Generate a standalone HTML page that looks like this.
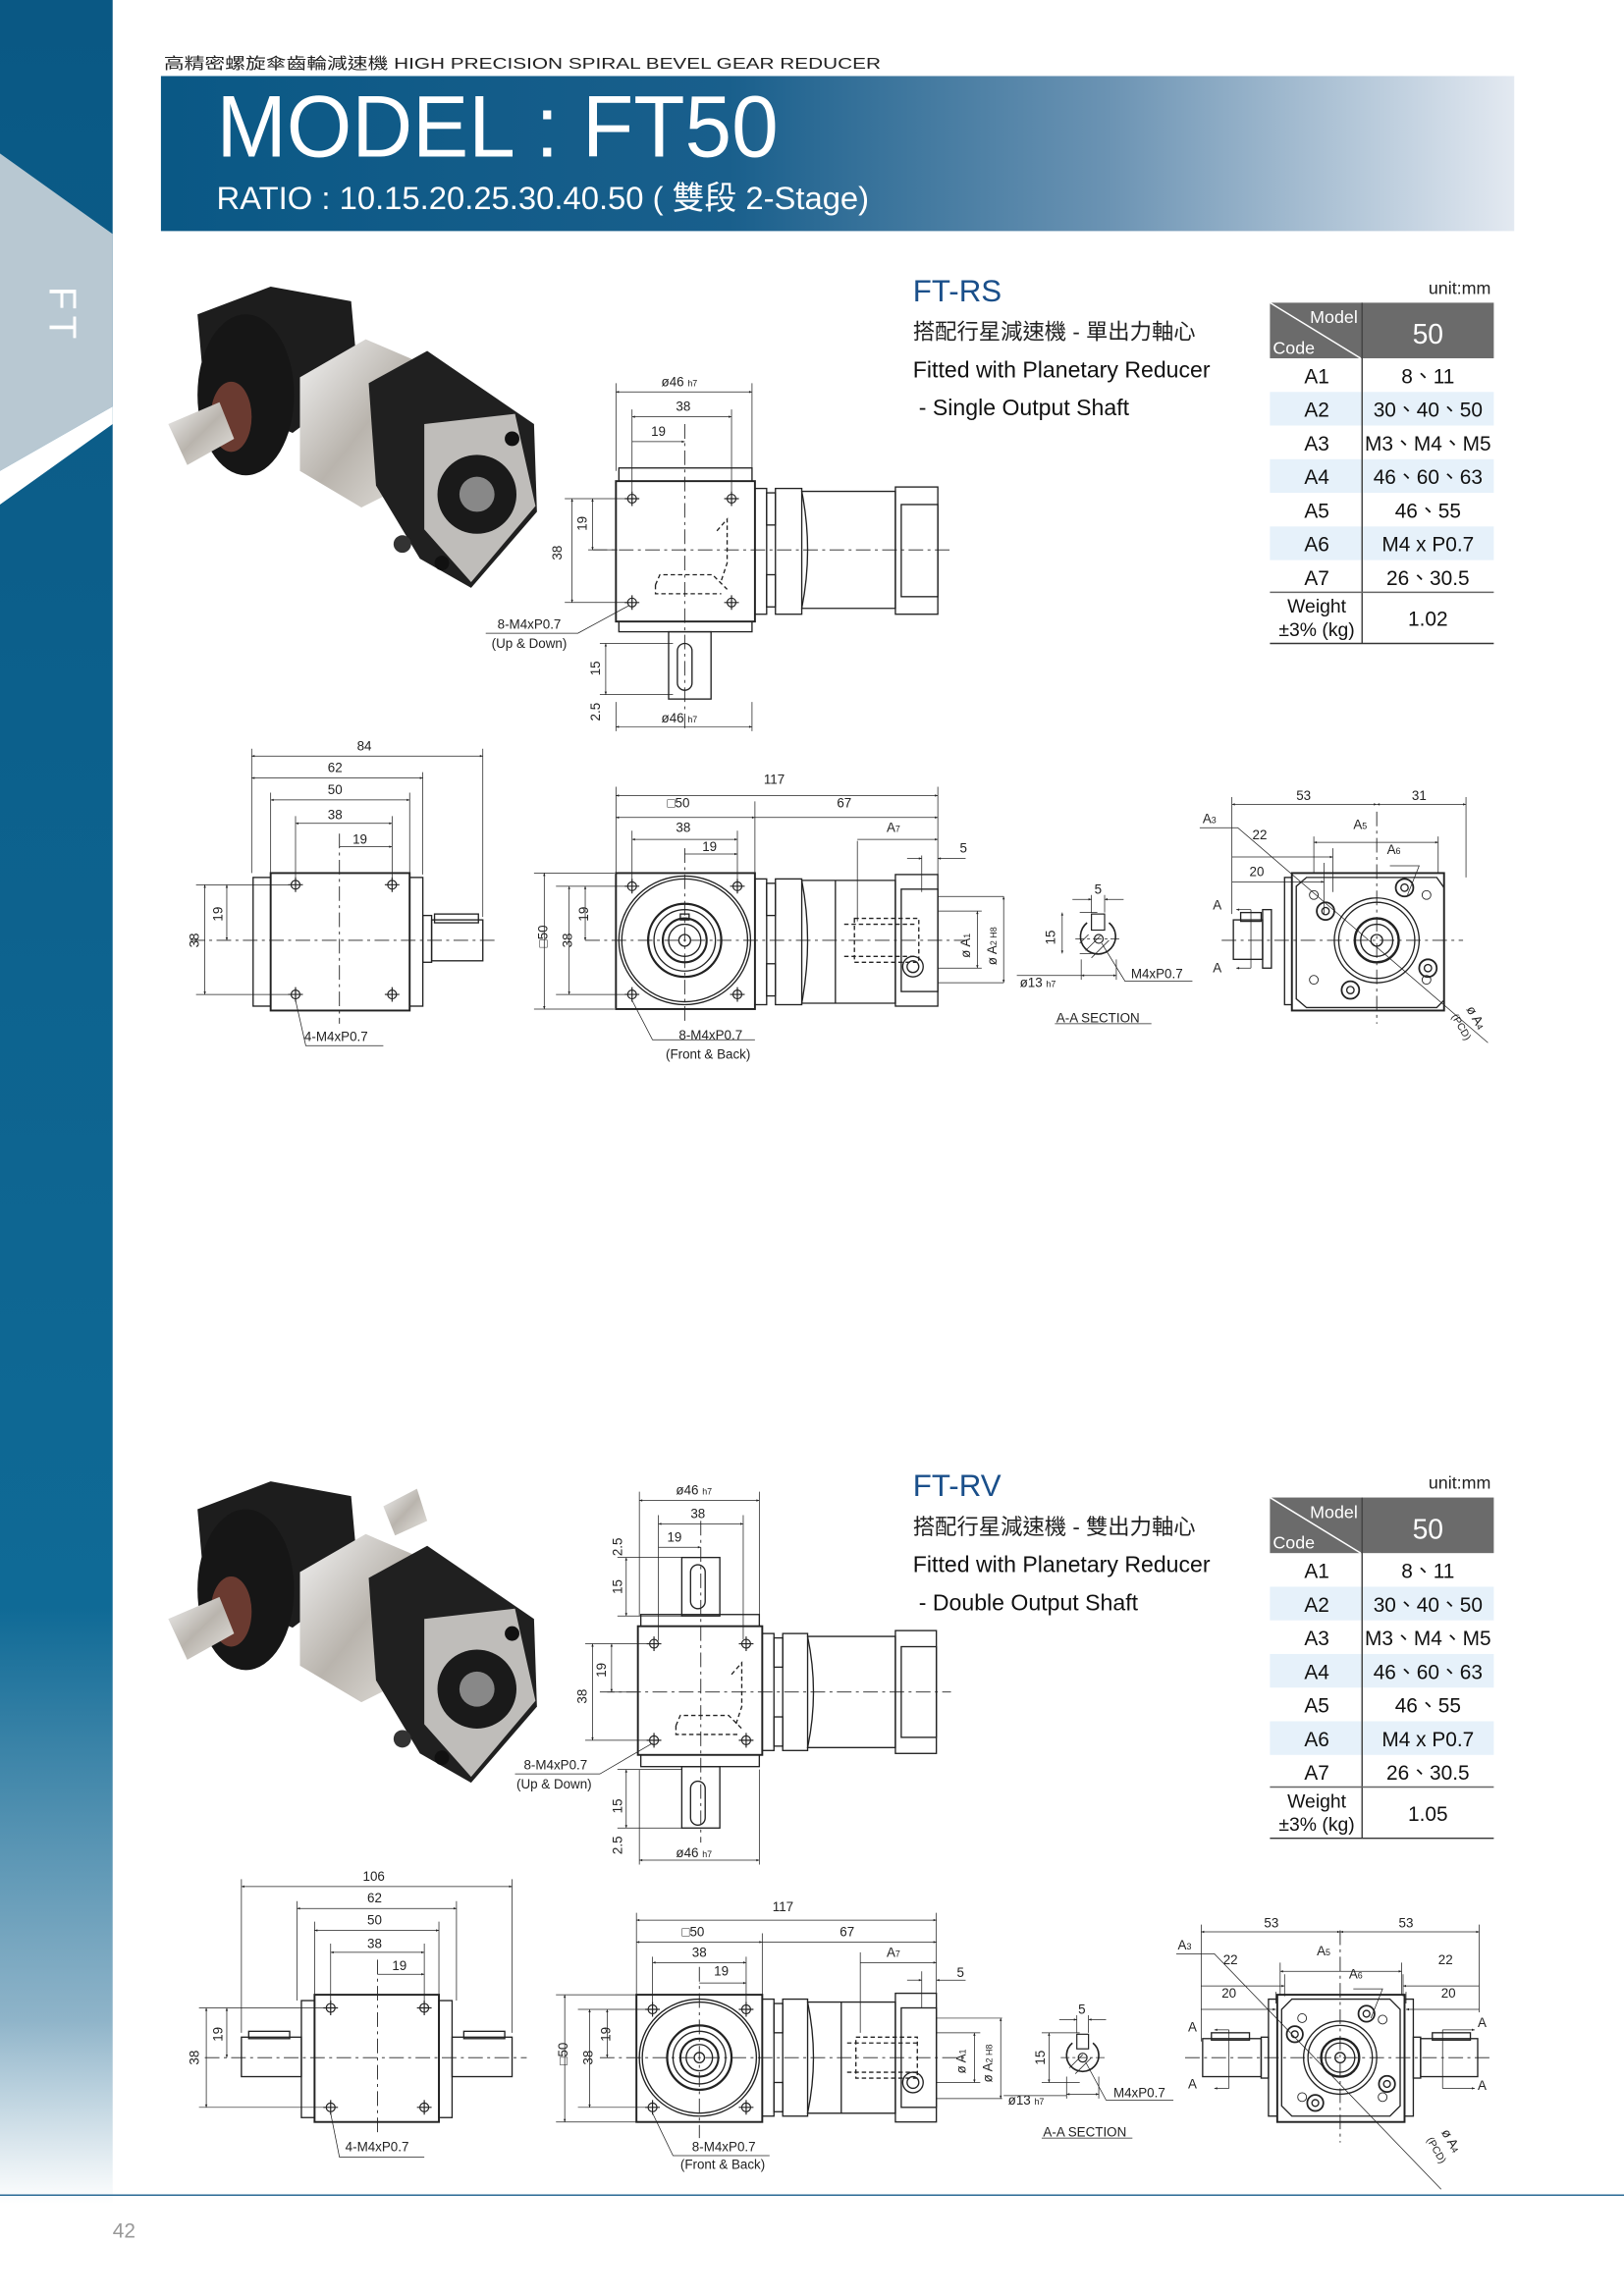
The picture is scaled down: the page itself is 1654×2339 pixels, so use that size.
<!DOCTYPE html>
<html><head><meta charset="utf-8"><style>
html,body{margin:0;padding:0;background:#fff}
svg{display:block}
text{font-family:"Liberation Sans","Noto Sans CJK TC",sans-serif}
</style></head><body>
<svg width="1654" height="2339" viewBox="0 0 1110 1570" preserveAspectRatio="none" xmlns="http://www.w3.org/2000/svg">
<defs>
<linearGradient id="side" x1="0" y1="0" x2="0" y2="1">
<stop offset="0" stop-color="#0a5884"/><stop offset="0.7" stop-color="#0f6a96"/><stop offset="0.88" stop-color="#8fb4c9"/><stop offset="0.96" stop-color="#ffffff"/></linearGradient>
<linearGradient id="band" x1="0" y1="0" x2="1" y2="0">
<stop offset="0" stop-color="#0a5885"/><stop offset="0.42" stop-color="#195f8c"/><stop offset="0.7" stop-color="#6b93b3"/><stop offset="1" stop-color="#e3e9f1"/></linearGradient>
<linearGradient id="silv" x1="0" y1="0" x2="1" y2="1"><stop offset="0" stop-color="#f2f2f2"/><stop offset="0.5" stop-color="#b9b4ad"/><stop offset="1" stop-color="#e8e6e2"/></linearGradient>
<marker id="ar" viewBox="0 0 10 10" refX="10" refY="5" markerWidth="6" markerHeight="4" orient="auto-start-reverse"><path d="M0,1 L10,5 L0,9 z" fill="#222"/></marker>
</defs>

<!-- sidebar -->
<rect x="0" y="0" width="77" height="1570" fill="url(#side)"/>
<polygon points="0,105 77,160 77,278 0,322" fill="#b8c8d2"/>
<polygon points="0,322 77,278 77,290 0,345" fill="#ffffff"/>
<text x="0" y="0" transform="translate(34,196) rotate(90)" font-size="26" fill="#fff" letter-spacing="4">FT</text>

<!-- header -->
<text x="112" y="47" font-size="10.5" fill="#222" textLength="490" lengthAdjust="spacingAndGlyphs">高精密螺旋傘齒輪減速機  HIGH PRECISION SPIRAL BEVEL GEAR REDUCER</text>
<rect x="110" y="52" width="925" height="106" fill="url(#band)"/>
<text x="148" y="107" font-size="60" fill="#fff" textLength="384" lengthAdjust="spacingAndGlyphs">MODEL : FT50</text>
<text x="148" y="143" font-size="22" fill="#fff" textLength="446" lengthAdjust="spacingAndGlyphs">RATIO : 10.15.20.25.30.40.50 ( 雙段 2-Stage)</text>

<!-- footer -->
<line x1="0" y1="1501" x2="1110" y2="1501" stroke="#2a6a96" stroke-width="1"/>
<text x="77" y="1530" font-size="14" fill="#999">42</text>

<!-- ============ SECTION 1 ============ -->
<g id="s1">
<!-- photo -->
<polygon points="135,215 185,196 240,206 245,262 200,296 140,272" fill="#1d1d1d"/>
<ellipse cx="168" cy="270" rx="33" ry="55" fill="#161616"/>
<ellipse cx="158" cy="285" rx="14" ry="24" fill="#6a3a30"/>
<polygon points="115,290 150,275 160,300 128,318" fill="url(#silv)"/>
<polygon points="205,258 250,232 292,250 297,322 247,347 205,322" fill="url(#silv)"/>
<polygon points="252,262 292,240 365,290 367,350 322,402 287,382 257,332" fill="#202020"/>
<polygon points="290,290 352,283 366,346 322,398 290,362" fill="#bfbdba"/>
<circle cx="326" cy="338" r="27" fill="#1a1a1a"/><circle cx="326" cy="338" r="12" fill="#888"/>
<circle cx="275" cy="372" r="6" fill="#333"/><circle cx="350" cy="300" r="5" fill="#111"/><circle cx="302" cy="385" r="5" fill="#111"/>

<!-- titles -->
<text x="624" y="206" font-size="21" fill="#1a4f8a">FT-RS</text>
<text x="624" y="232" font-size="15" fill="#222">搭配行星減速機 - 單出力軸心</text>
<text x="624" y="258" font-size="15.5" fill="#111">Fitted with Planetary Reducer</text>
<text x="628" y="284" font-size="15.5" fill="#111">-  Single Output Shaft</text>

<!-- table -->
<text x="1019" y="201" font-size="12" fill="#222" text-anchor="end">unit:mm</text>
<rect x="868" y="207" width="153" height="38" fill="#6b6b6b"/>
<line x1="868" y1="207" x2="930" y2="245" stroke="#fff" stroke-width="1"/>
<text x="928" y="221" font-size="12" fill="#fff" text-anchor="end">Model</text>
<text x="870" y="242" font-size="12" fill="#fff">Code</text>
<text x="976" y="235" font-size="19" fill="#fff" text-anchor="middle">50</text>
<rect x="868" y="268" width="153" height="23" fill="#e6f1fa"/>
<rect x="868" y="314" width="153" height="23" fill="#e6f1fa"/>
<rect x="868" y="360" width="153" height="23" fill="#e6f1fa"/>
<line x1="931" y1="207" x2="931" y2="440" stroke="#444" stroke-width="1"/>
<line x1="868" y1="405" x2="1021" y2="405" stroke="#666" stroke-width="1"/>
<line x1="868" y1="440" x2="1021" y2="440" stroke="#333" stroke-width="1"/>
<g font-size="14" fill="#111" text-anchor="middle">
<text x="900" y="262">A1</text><text x="976" y="262">8、11</text>
<text x="900" y="285">A2</text><text x="976" y="285">30、40、50</text>
<text x="900" y="308">A3</text><text x="976" y="308">M3、M4、M5</text>
<text x="900" y="331">A4</text><text x="976" y="331">46、60、63</text>
<text x="900" y="354">A5</text><text x="976" y="354">46、55</text>
<text x="900" y="377">A6</text><text x="976" y="377">M4 x P0.7</text>
<text x="900" y="400">A7</text><text x="976" y="400">26、30.5</text>
<text x="900" y="419" font-size="13">Weight</text><text x="900" y="435" font-size="13">±3% (kg)</text>
<text x="976" y="428">1.02</text>
</g>

<!-- top view -->
<g stroke="#222" fill="none" stroke-width="0.9">
<rect x="423" y="320" width="91" height="9"/>
<rect x="421" y="329" width="95" height="96" stroke-width="1.3"/>
<rect x="423" y="425" width="91" height="7"/>
<rect x="457" y="432" width="29" height="46"/>
<rect x="463" y="440" width="10" height="32" rx="5"/>
<rect x="516" y="334" width="8" height="86"/>
<rect x="524" y="337" width="6" height="22"/><rect x="524" y="393" width="6" height="22"/>
<rect x="530" y="334" width="18" height="86"/>
<path d="M548,336 H612 V416 H548 Q556,376 548,336z"/>
<rect x="612" y="333" width="29" height="87"/><rect x="616" y="345" width="25" height="63"/>
<path d="M448,400 l3,-7 h36 l10,10 M490,363 l7,-8 v30 l-4,12 M448,400 v6 h45" stroke-dasharray="3 2"/>
<g stroke-width="0.8"><circle cx="432" cy="341" r="3"/><circle cx="500" cy="341" r="3"/><circle cx="432" cy="412" r="3"/><circle cx="500" cy="412" r="3"/>
<path d="M432,336v10M427,341h10M500,336v10M495,341h10M432,407v10M427,412h10M500,407v10M495,412h10"/></g>
<line x1="405" y1="376" x2="650" y2="376" stroke-dasharray="10 3 2 3" stroke-width="0.6"/>
<line x1="468" y1="290" x2="468" y2="500" stroke-dasharray="10 3 2 3" stroke-width="0.6"/>
</g>
<g stroke="#222" stroke-width="0.5" fill="none">
<path d="M421,262v60M514,262v60M432,280v56M500,280v56M432,297v39"/>
<line x1="421" y1="268" x2="514" y2="268" marker-start="url(#ar)" marker-end="url(#ar)"/>
<line x1="432" y1="285" x2="500" y2="285" marker-start="url(#ar)" marker-end="url(#ar)"/>
<line x1="432" y1="302" x2="468" y2="302" marker-end="url(#ar)"/>
<path d="M386,341h44M386,412h44M402,376h20"/>
<line x1="391" y1="341" x2="391" y2="412" marker-start="url(#ar)" marker-end="url(#ar)"/>
<line x1="405" y1="341" x2="405" y2="376" marker-start="url(#ar)" marker-end="url(#ar)"/>
<path d="M410,440h50M410,475h50M421,480v20M514,480v20"/>
<line x1="414" y1="440" x2="414" y2="475" marker-start="url(#ar)" marker-end="url(#ar)"/>
<line x1="421" y1="497" x2="514" y2="497" marker-start="url(#ar)" marker-end="url(#ar)"/>
<path d="M332,433H395L430,414"/>
</g>
<g font-size="9" fill="#222">
<text x="452" y="264">ø46 <tspan font-size="6">h7</tspan></text><text x="462" y="281">38</text><text x="445" y="298">19</text>
<text transform="translate(384,383) rotate(-90)">38</text><text transform="translate(401,363) rotate(-90)">19</text>
<text transform="translate(410,462) rotate(-90)">15</text><text transform="translate(410,493) rotate(-90)">2.5</text>
<text x="452" y="494">ø46 <tspan font-size="6">h7</tspan></text>
<text x="340" y="430">8-M4xP0.7</text><text x="336" y="443">(Up &amp; Down)</text>
</g>

<!-- left view -->
<g stroke="#222" fill="none" stroke-width="0.9">
<rect x="173" y="600" width="12" height="88"/>
<rect x="185" y="597" width="95" height="94" stroke-width="1.3"/>
<rect x="280" y="600" width="9" height="88"/>
<rect x="289" y="626" width="6" height="32"/>
<rect x="295" y="629" width="35" height="28"/><rect x="297" y="625" width="30" height="6"/>
<g stroke-width="0.8"><circle cx="202" cy="605" r="3"/><circle cx="268" cy="605" r="3"/><circle cx="202" cy="680" r="3"/><circle cx="268" cy="680" r="3"/>
<path d="M202,600v10M197,605h10M268,600v10M263,605h10M202,675v10M197,680h10M268,675v10M263,680h10"/></g>
<line x1="130" y1="643" x2="340" y2="643" stroke-dasharray="10 3 2 3" stroke-width="0.6"/>
<line x1="232" y1="570" x2="232" y2="700" stroke-dasharray="10 3 2 3" stroke-width="0.6"/>
</g>
<g stroke="#222" stroke-width="0.5" fill="none">
<path d="M172,512v85M330,512v115M289,528v70M185,542v55M280,542v55M202,558v45M268,558v45"/>
<line x1="172" y1="517" x2="330" y2="517" marker-start="url(#ar)" marker-end="url(#ar)"/>
<line x1="172" y1="532" x2="289" y2="532" marker-start="url(#ar)" marker-end="url(#ar)"/>
<line x1="185" y1="547" x2="280" y2="547" marker-start="url(#ar)" marker-end="url(#ar)"/>
<line x1="202" y1="563" x2="268" y2="563" marker-start="url(#ar)" marker-end="url(#ar)"/>
<line x1="232" y1="579" x2="268" y2="579" marker-end="url(#ar)"/>
<path d="M134,605h64M134,680h64"/>
<line x1="140" y1="605" x2="140" y2="680" marker-start="url(#ar)" marker-end="url(#ar)"/>
<line x1="155" y1="605" x2="155" y2="643" marker-start="url(#ar)" marker-end="url(#ar)"/>
<path d="M202,684L209,715H262"/>
</g>
<g font-size="9" fill="#222">
<text x="244" y="513">84</text><text x="224" y="528">62</text><text x="224" y="543">50</text><text x="224" y="560">38</text><text x="241" y="577">19</text>
<text transform="translate(136,648) rotate(-90)">38</text><text transform="translate(152,630) rotate(-90)">19</text>
<text x="208" y="712">4-M4xP0.7</text>
</g>

<!-- front view -->
<g stroke="#222" fill="none" stroke-width="0.9">
<rect x="421" y="597" width="95" height="93" stroke-width="1.3"/>
<ellipse cx="468" cy="643" rx="45" ry="44"/><ellipse cx="468" cy="643" rx="43" ry="42"/>
<circle cx="468" cy="643" r="25" stroke-width="1.5"/><circle cx="468" cy="643" r="21"/><circle cx="468" cy="643" r="15" stroke-width="1.4"/><circle cx="468" cy="643" r="11"/><circle cx="468" cy="643" r="4"/>
<rect x="465" y="625" width="6" height="4"/>
<g stroke-width="0.8"><circle cx="432" cy="606" r="3"/><circle cx="504" cy="606" r="3"/><circle cx="432" cy="680" r="3"/><circle cx="504" cy="680" r="3"/>
<path d="M432,601v10M427,606h10M504,601v10M499,606h10M432,675v10M427,680h10M504,675v10M499,680h10"/></g>
<rect x="516" y="601" width="8" height="86"/>
<rect x="524" y="604" width="6" height="22"/><rect x="524" y="659" width="6" height="22"/>
<rect x="530" y="601" width="18" height="86"/>
<path d="M548,602 H612 V686 H548 Q556,643 548,602z"/><line x1="571" y1="602" x2="571" y2="686"/>
<rect x="612" y="598" width="29" height="90"/><rect x="616" y="608" width="25" height="70"/>
<path d="M584,628h44v30h-44z M577,632h50 M577,654h50" stroke-dasharray="3 2"/>
<circle cx="624" cy="661" r="7"/><circle cx="624" cy="661" r="4"/>
<line x1="400" y1="643" x2="660" y2="643" stroke-dasharray="10 3 2 3" stroke-width="0.6"/>
<line x1="468" y1="580" x2="468" y2="700" stroke-dasharray="10 3 2 3" stroke-width="0.6"/>
</g>
<g stroke="#222" stroke-width="0.5" fill="none">
<path d="M421,538v59M641,538v60M516,548v50M432,568v35M504,568v35M586,575v55M630,585v25"/>
<line x1="421" y1="544" x2="641" y2="544" marker-start="url(#ar)" marker-end="url(#ar)"/>
<line x1="421" y1="559" x2="516" y2="559" marker-start="url(#ar)" marker-end="url(#ar)"/>
<line x1="516" y1="559" x2="641" y2="559" marker-end="url(#ar)"/>
<line x1="432" y1="574" x2="504" y2="574" marker-start="url(#ar)" marker-end="url(#ar)"/>
<line x1="468" y1="584" x2="504" y2="584" marker-end="url(#ar)"/>
<line x1="586" y1="574" x2="641" y2="574" marker-end="url(#ar)"/>
<line x1="620" y1="587" x2="630" y2="587" marker-end="url(#ar)"/><line x1="660" y1="587" x2="641" y2="587" marker-end="url(#ar)"/>
<path d="M365,597h55M380,606h50M380,680h50M365,690h55"/>
<line x1="372" y1="597" x2="372" y2="690" marker-start="url(#ar)" marker-end="url(#ar)"/>
<line x1="389" y1="606" x2="389" y2="680" marker-start="url(#ar)" marker-end="url(#ar)"/>
<line x1="400" y1="606" x2="400" y2="643" marker-start="url(#ar)" marker-end="url(#ar)"/>
<path d="M641,613h45M641,672h45M641,623h30M641,662h30"/>
<line x1="686" y1="613" x2="686" y2="672" marker-start="url(#ar)" marker-end="url(#ar)"/>
<line x1="668" y1="623" x2="668" y2="662" marker-start="url(#ar)" marker-end="url(#ar)"/>
<path d="M432,684L446,711H516"/>
</g>
<g font-size="9" fill="#222">
<text x="522" y="536">117</text><text x="456" y="552">□50</text><text x="572" y="552">67</text><text x="462" y="569">38</text><text x="480" y="582">19</text>
<text x="606" y="569">A<tspan font-size="6">7</tspan></text><text x="656" y="583">5</text>
<text transform="translate(374,648) rotate(-90)">□50</text><text transform="translate(391,648) rotate(-90)">38</text><text transform="translate(402,630) rotate(-90)">19</text>
<text transform="translate(663,655) rotate(-90)">ø A<tspan font-size="6">1</tspan></text><text transform="translate(681,660) rotate(-90)">ø A<tspan font-size="6">2 H8</tspan></text>
<text x="464" y="711">8-M4xP0.7</text><text x="455" y="724">(Front &amp; Back)</text>
</g>

<!-- A-A section -->
<g stroke="#222" fill="none" stroke-width="0.8">
<path d="M743,631 A12,12 0 1 0 758,631" stroke-width="1.1"/>
<rect x="746" y="625" width="9" height="11"/>
<circle cx="751" cy="642" r="3"/>
<path d="M742,650l10,-10M746,655l12,-12M738,645l6,-6" stroke-width="0.5"/>
<line x1="735" y1="642" x2="767" y2="642" stroke-dasharray="6 2 2 2" stroke-width="0.5"/>
<g stroke-width="0.5"><path d="M746,612v12M755,612v12M738,624h12M738,652h12M739,656v14M763,656v14"/>
<line x1="733" y1="615" x2="746" y2="615" marker-end="url(#ar)"/><line x1="768" y1="615" x2="755" y2="615" marker-end="url(#ar)"/>
<line x1="726" y1="624" x2="726" y2="652" marker-start="url(#ar)" marker-end="url(#ar)"/>
<line x1="739" y1="667" x2="763" y2="667" marker-start="url(#ar)" marker-end="url(#ar)"/>
<path d="M695,667h44M753,645L769,671H815"/>
<path d="M721,700H787"/></g>
</g>
<g font-size="9" fill="#222">
<text x="748" y="611">5</text><text transform="translate(721,646) rotate(-90)">15</text>
<text x="697" y="675">ø13 <tspan font-size="6">h7</tspan></text><text x="773" y="669">M4xP0.7</text>
<text x="722" y="699">A-A  SECTION</text>
</g>

<!-- right view -->
<g stroke="#222" fill="none" stroke-width="0.9">
<rect x="878" y="600" width="5" height="87"/>
<rect x="883" y="597" width="104" height="94" stroke-width="1.3"/>
<path d="M893,600h89l5,7v77l-5,5h-89l-7,-6v-77z"/>
<rect x="863" y="622" width="6" height="40"/>
<rect x="843" y="629" width="20" height="27"/><rect x="848" y="624" width="14" height="6"/>
<circle cx="941" cy="643" r="29"/><circle cx="941" cy="643" r="26"/>
<circle cx="941" cy="643" r="15" stroke-width="1.6"/><circle cx="941" cy="643" r="11"/><circle cx="941" cy="643" r="4"/>
<g stroke-width="1.2"><circle cx="906" cy="623" r="6"/><circle cx="960" cy="607" r="6"/><circle cx="976" cy="662" r="6"/><circle cx="923" cy="677" r="6"/></g>
<circle cx="906" cy="623" r="2.5"/><circle cx="960" cy="607" r="2.5"/><circle cx="976" cy="662" r="2.5"/><circle cx="923" cy="677" r="2.5"/>
<g stroke-width="0.6"><circle cx="898" cy="612" r="3"/><circle cx="975" cy="612" r="3"/><circle cx="975" cy="670" r="3"/><circle cx="898" cy="670" r="3"/></g>
<line x1="835" y1="643" x2="1000" y2="643" stroke-dasharray="10 3 2 3" stroke-width="0.6"/>
<line x1="941" y1="555" x2="941" y2="700" stroke-dasharray="10 3 2 3" stroke-width="0.6"/>
</g>
<g stroke="#222" stroke-width="0.5" fill="none">
<path d="M842,545v80M1002,545v55M898,572v25M983,572v25M911,580v30M905,590v35"/>
<line x1="842" y1="550" x2="941" y2="550" marker-start="url(#ar)" marker-end="url(#ar)"/>
<line x1="941" y1="550" x2="1002" y2="550" marker-start="url(#ar)" marker-end="url(#ar)"/>
<line x1="898" y1="576" x2="983" y2="576" marker-start="url(#ar)" marker-end="url(#ar)"/>
<line x1="842" y1="586" x2="911" y2="586" marker-end="url(#ar)"/>
<line x1="842" y1="603" x2="905" y2="603" marker-end="url(#ar)"/>
<path d="M820,566H846L1017,713"/>
<path d="M950,592h20l-8,20"/>
<line x1="855" y1="622" x2="845" y2="622" marker-end="url(#ar)"/><path d="M855,622v40"/>
<line x1="855" y1="662" x2="845" y2="662" marker-end="url(#ar)"/>
</g>
<g font-size="9" fill="#222">
<text x="822" y="563">A<tspan font-size="6">3</tspan></text><text x="886" y="547">53</text><text x="965" y="547">31</text>
<text x="856" y="574">22</text><text x="854" y="599">20</text><text x="925" y="567">A<tspan font-size="6">5</tspan></text><text x="948" y="584">A<tspan font-size="6">6</tspan></text>
<text x="829" y="622">A</text><text x="829" y="665">A</text>
<text transform="translate(1002,690) rotate(60)">ø A<tspan font-size="6">4</tspan></text><text transform="translate(992,695) rotate(60)" font-size="7">(PCD)</text>
</g>
</g>

<!-- ============ SECTION 2 ============ -->
<!-- photo -->
<polygon points="135,1032 185,1013 240,1023 245,1079 200,1113 140,1089" fill="#1d1d1d"/>
<ellipse cx="168" cy="1087" rx="33" ry="55" fill="#161616"/>
<ellipse cx="158" cy="1102" rx="14" ry="24" fill="#6a3a30"/>
<polygon points="115,1107 150,1092 160,1117 128,1135" fill="url(#silv)"/>
<polygon points="262,1030 285,1018 292,1040 270,1050" fill="url(#silv)"/>
<polygon points="205,1075 250,1049 292,1067 297,1139 247,1164 205,1139" fill="url(#silv)"/>
<polygon points="252,1079 292,1057 365,1107 367,1167 322,1219 287,1199 257,1149" fill="#202020"/>
<polygon points="290,1107 352,1100 366,1163 322,1215 290,1179" fill="#bfbdba"/>
<circle cx="326" cy="1155" r="27" fill="#1a1a1a"/><circle cx="326" cy="1155" r="12" fill="#888"/>
<circle cx="275" cy="1189" r="6" fill="#333"/><circle cx="350" cy="1117" r="5" fill="#111"/><circle cx="302" cy="1202" r="5" fill="#111"/>

<text x="624" y="1023" font-size="21" fill="#1a4f8a">FT-RV</text>
<text x="624" y="1049" font-size="15" fill="#222">搭配行星減速機 - 雙出力軸心</text>
<text x="624" y="1075" font-size="15.5" fill="#111">Fitted with Planetary Reducer</text>
<text x="628" y="1101" font-size="15.5" fill="#111">-  Double Output Shaft</text>

<text x="1019" y="1018" font-size="12" fill="#222" text-anchor="end">unit:mm</text>
<rect x="868" y="1024" width="153" height="38" fill="#6b6b6b"/>
<line x1="868" y1="1024" x2="930" y2="1062" stroke="#fff" stroke-width="1"/>
<text x="928" y="1038" font-size="12" fill="#fff" text-anchor="end">Model</text>
<text x="870" y="1059" font-size="12" fill="#fff">Code</text>
<text x="976" y="1052" font-size="19" fill="#fff" text-anchor="middle">50</text>
<rect x="868" y="1085" width="153" height="23" fill="#e6f1fa"/>
<rect x="868" y="1131" width="153" height="23" fill="#e6f1fa"/>
<rect x="868" y="1177" width="153" height="23" fill="#e6f1fa"/>
<line x1="931" y1="1024" x2="931" y2="1257" stroke="#444" stroke-width="1"/>
<line x1="868" y1="1222" x2="1021" y2="1222" stroke="#666" stroke-width="1"/>
<line x1="868" y1="1257" x2="1021" y2="1257" stroke="#333" stroke-width="1"/>
<g font-size="14" fill="#111" text-anchor="middle">
<text x="900" y="1079">A1</text><text x="976" y="1079">8、11</text>
<text x="900" y="1102">A2</text><text x="976" y="1102">30、40、50</text>
<text x="900" y="1125">A3</text><text x="976" y="1125">M3、M4、M5</text>
<text x="900" y="1148">A4</text><text x="976" y="1148">46、60、63</text>
<text x="900" y="1171">A5</text><text x="976" y="1171">46、55</text>
<text x="900" y="1194">A6</text><text x="976" y="1194">M4 x P0.7</text>
<text x="900" y="1217">A7</text><text x="976" y="1217">26、30.5</text>
<text x="900" y="1236" font-size="13">Weight</text><text x="900" y="1252" font-size="13">±3% (kg)</text>
<text x="976" y="1245">1.05</text>
</g>

<!-- RV top view -->
<g stroke="#222" fill="none" stroke-width="0.9">
<rect x="466" y="1065" width="26" height="40"/><rect x="472" y="1070" width="10" height="30" rx="5"/>
<rect x="438" y="1104" width="81" height="8"/>
<rect x="436" y="1112" width="85" height="88" stroke-width="1.3"/>
<rect x="438" y="1200" width="81" height="8"/>
<rect x="466" y="1208" width="26" height="42"/><rect x="472" y="1218" width="10" height="30" rx="5"/>
<rect x="521" y="1117" width="8" height="80"/>
<rect x="529" y="1120" width="6" height="20"/><rect x="529" y="1174" width="6" height="20"/>
<rect x="535" y="1117" width="17" height="80"/>
<path d="M552,1119 H612 V1195 H552 Q560,1157 552,1119z"/>
<rect x="612" y="1115" width="28" height="84"/><rect x="616" y="1126" width="24" height="62"/>
<path d="M462,1180l3,-7 h33 l10,10 M500,1145l7,-8v30l-4,12 M462,1180v6h42" stroke-dasharray="3 2"/>
<g stroke-width="0.8"><circle cx="447" cy="1124" r="3"/><circle cx="510" cy="1124" r="3"/><circle cx="447" cy="1190" r="3"/><circle cx="510" cy="1190" r="3"/>
<path d="M447,1119v10M442,1124h10M510,1119v10M505,1124h10M447,1185v10M442,1190h10M510,1185v10M505,1190h10"/></g>
<line x1="410" y1="1157" x2="650" y2="1157" stroke-dasharray="10 3 2 3" stroke-width="0.6"/>
<line x1="479" y1="1040" x2="479" y2="1260" stroke-dasharray="10 3 2 3" stroke-width="0.6"/>
</g>
<g stroke="#222" stroke-width="0.5" fill="none">
<path d="M437,1020v85M519,1020v85M450,1036v85M508,1036v85M450,1052v70M422,1065h44M422,1105h44M422,1210h44M422,1250h44M437,1210v65M519,1210v65"/>
<line x1="437" y1="1026" x2="519" y2="1026" marker-start="url(#ar)" marker-end="url(#ar)"/>
<line x1="450" y1="1042" x2="508" y2="1042" marker-start="url(#ar)" marker-end="url(#ar)"/>
<line x1="450" y1="1058" x2="479" y2="1058" marker-end="url(#ar)"/>
<line x1="428" y1="1065" x2="428" y2="1105" marker-start="url(#ar)" marker-end="url(#ar)"/>
<line x1="428" y1="1210" x2="428" y2="1250" marker-start="url(#ar)" marker-end="url(#ar)"/>
<line x1="437" y1="1272" x2="519" y2="1272" marker-start="url(#ar)" marker-end="url(#ar)"/>
<path d="M400,1124h44M400,1190h44M415,1157h20"/>
<line x1="405" y1="1124" x2="405" y2="1190" marker-start="url(#ar)" marker-end="url(#ar)"/>
<line x1="418" y1="1124" x2="418" y2="1157" marker-start="url(#ar)" marker-end="url(#ar)"/>
<path d="M352,1213H410L446,1192"/>
</g>
<g font-size="9" fill="#222">
<text x="462" y="1022">ø46 <tspan font-size="6">h7</tspan></text><text x="472" y="1038">38</text><text x="456" y="1054">19</text>
<text transform="translate(425,1064) rotate(-90)">2.5</text><text transform="translate(425,1090) rotate(-90)">15</text>
<text transform="translate(425,1240) rotate(-90)">15</text><text transform="translate(425,1268) rotate(-90)">2.5</text>
<text x="462" y="1270">ø46 <tspan font-size="6">h7</tspan></text>
<text transform="translate(401,1165) rotate(-90)">38</text><text transform="translate(414,1147) rotate(-90)">19</text>
<text x="358" y="1210">8-M4xP0.7</text><text x="353" y="1223">(Up &amp; Down)</text>
</g>

<!-- RV left view -->
<g stroke="#222" fill="none" stroke-width="0.9">
<rect x="206" y="1368" width="9" height="80"/>
<rect x="215" y="1364" width="85" height="87" stroke-width="1.3"/>
<rect x="300" y="1368" width="9" height="80"/>
<rect x="165" y="1393" width="41" height="27"/><rect x="170" y="1389" width="28" height="5"/>
<rect x="309" y="1393" width="41" height="27"/><rect x="317" y="1389" width="28" height="5"/>
<g stroke-width="0.8"><circle cx="226" cy="1373" r="3"/><circle cx="290" cy="1373" r="3"/><circle cx="226" cy="1441" r="3"/><circle cx="290" cy="1441" r="3"/>
<path d="M226,1368v10M221,1373h10M290,1368v10M285,1373h10M226,1436v10M221,1441h10M290,1436v10M285,1441h10"/></g>
<line x1="140" y1="1407" x2="360" y2="1407" stroke-dasharray="10 3 2 3" stroke-width="0.6"/>
<line x1="258" y1="1340" x2="258" y2="1460" stroke-dasharray="10 3 2 3" stroke-width="0.6"/>
</g>
<g stroke="#222" stroke-width="0.5" fill="none">
<path d="M165,1285v105M350,1285v105M203,1300v68M312,1300v68M215,1314v50M300,1314v50M226,1329v40M290,1329v40"/>
<line x1="165" y1="1290" x2="350" y2="1290" marker-start="url(#ar)" marker-end="url(#ar)"/>
<line x1="203" y1="1305" x2="312" y2="1305" marker-start="url(#ar)" marker-end="url(#ar)"/>
<line x1="215" y1="1320" x2="300" y2="1320" marker-start="url(#ar)" marker-end="url(#ar)"/>
<line x1="226" y1="1335" x2="290" y2="1335" marker-start="url(#ar)" marker-end="url(#ar)"/>
<line x1="258" y1="1350" x2="290" y2="1350" marker-end="url(#ar)"/>
<path d="M136,1373h86M136,1441h86"/>
<line x1="141" y1="1373" x2="141" y2="1441" marker-start="url(#ar)" marker-end="url(#ar)"/>
<line x1="155" y1="1373" x2="155" y2="1407" marker-start="url(#ar)" marker-end="url(#ar)"/>
<path d="M226,1445L232,1475H290"/>
</g>
<g font-size="9" fill="#222">
<text x="248" y="1286">106</text><text x="251" y="1301">62</text><text x="251" y="1316">50</text><text x="251" y="1332">38</text><text x="268" y="1347">19</text>
<text transform="translate(136,1412) rotate(-90)">38</text><text transform="translate(152,1396) rotate(-90)">19</text>
<text x="236" y="1471">4-M4xP0.7</text>
</g>

<!-- RV front view -->
<g stroke="#222" fill="none" stroke-width="0.9">
<rect x="435" y="1364" width="86" height="87" stroke-width="1.3"/>
<ellipse cx="478" cy="1407" rx="41" ry="40"/><ellipse cx="478" cy="1407" rx="39" ry="38"/>
<circle cx="478" cy="1407" r="22" stroke-width="1.5"/><circle cx="478" cy="1407" r="18"/><circle cx="478" cy="1407" r="13" stroke-width="1.4"/><circle cx="478" cy="1407" r="9"/><circle cx="478" cy="1407" r="3.5"/>
<g stroke-width="0.8"><circle cx="446" cy="1374" r="3"/><circle cx="510" cy="1374" r="3"/><circle cx="446" cy="1441" r="3"/><circle cx="510" cy="1441" r="3"/>
<path d="M446,1369v10M441,1374h10M510,1369v10M505,1374h10M446,1436v10M441,1441h10M510,1436v10M505,1441h10"/></g>
<rect x="521" y="1367" width="8" height="80"/>
<rect x="529" y="1370" width="6" height="20"/><rect x="529" y="1424" width="6" height="20"/>
<rect x="535" y="1367" width="17" height="80"/>
<path d="M552,1369 H612 V1445 H552 Q560,1407 552,1369z"/><line x1="575" y1="1369" x2="575" y2="1445"/>
<rect x="612" y="1363" width="28" height="88"/><rect x="616" y="1373" width="24" height="68"/>
<path d="M585,1393h42v28h-42z M579,1397h48 M579,1417h48" stroke-dasharray="3 2"/>
<circle cx="624" cy="1424" r="7"/><circle cx="624" cy="1424" r="4"/>
<line x1="410" y1="1407" x2="660" y2="1407" stroke-dasharray="10 3 2 3" stroke-width="0.6"/>
<line x1="478" y1="1345" x2="478" y2="1462" stroke-dasharray="10 3 2 3" stroke-width="0.6"/>
</g>
<g stroke="#222" stroke-width="0.5" fill="none">
<path d="M435,1308v56M640,1308v55M521,1322v45M446,1338v32M510,1338v32M588,1335v55M630,1348v25"/>
<line x1="435" y1="1313" x2="640" y2="1313" marker-start="url(#ar)" marker-end="url(#ar)"/>
<line x1="435" y1="1328" x2="521" y2="1328" marker-start="url(#ar)" marker-end="url(#ar)"/>
<line x1="521" y1="1328" x2="640" y2="1328" marker-end="url(#ar)"/>
<line x1="446" y1="1342" x2="510" y2="1342" marker-start="url(#ar)" marker-end="url(#ar)"/>
<line x1="478" y1="1356" x2="510" y2="1356" marker-end="url(#ar)"/>
<line x1="588" y1="1342" x2="640" y2="1342" marker-end="url(#ar)"/>
<line x1="620" y1="1354" x2="630" y2="1354" marker-end="url(#ar)"/><line x1="660" y1="1354" x2="640" y2="1354" marker-end="url(#ar)"/>
<path d="M380,1364h55M395,1374h48M395,1441h48M380,1451h55"/>
<line x1="386" y1="1364" x2="386" y2="1451" marker-start="url(#ar)" marker-end="url(#ar)"/>
<line x1="403" y1="1374" x2="403" y2="1441" marker-start="url(#ar)" marker-end="url(#ar)"/>
<line x1="415" y1="1374" x2="415" y2="1407" marker-start="url(#ar)" marker-end="url(#ar)"/>
<path d="M640,1380h45M640,1435h45M640,1390h30M640,1424h30"/>
<line x1="684" y1="1380" x2="684" y2="1435" marker-start="url(#ar)" marker-end="url(#ar)"/>
<line x1="666" y1="1390" x2="666" y2="1424" marker-start="url(#ar)" marker-end="url(#ar)"/>
<path d="M446,1445L460,1474H526"/>
</g>
<g font-size="9" fill="#222">
<text x="528" y="1307">117</text><text x="466" y="1324">□50</text><text x="574" y="1324">67</text><text x="473" y="1338">38</text><text x="488" y="1351">19</text>
<text x="606" y="1338">A<tspan font-size="6">7</tspan></text><text x="654" y="1352">5</text>
<text transform="translate(388,1412) rotate(-90)">□50</text><text transform="translate(405,1412) rotate(-90)">38</text><text transform="translate(417,1396) rotate(-90)">19</text>
<text transform="translate(660,1418) rotate(-90)">ø A<tspan font-size="6">1</tspan></text><text transform="translate(678,1424) rotate(-90)">ø A<tspan font-size="6">2 H8</tspan></text>
<text x="473" y="1471">8-M4xP0.7</text><text x="465" y="1483">(Front &amp; Back)</text>
</g>

<!-- RV A-A section -->
<g stroke="#222" fill="none" stroke-width="0.8">
<path d="M733,1397 A11,11 0 1 0 747,1397" stroke-width="1.1"/>
<rect x="736" y="1391" width="8" height="10"/>
<circle cx="740" cy="1407" r="3"/>
<path d="M731,1414l9,-9M735,1418l11,-11" stroke-width="0.5"/>
<line x1="725" y1="1407" x2="755" y2="1407" stroke-dasharray="6 2 2 2" stroke-width="0.5"/>
<g stroke-width="0.5"><path d="M736,1378v12M744,1378v12M712,1390h26M712,1424h26M729,1420v15M751,1420v15"/>
<line x1="724" y1="1381" x2="736" y2="1381" marker-end="url(#ar)"/><line x1="756" y1="1381" x2="744" y2="1381" marker-end="url(#ar)"/>
<line x1="717" y1="1390" x2="717" y2="1424" marker-start="url(#ar)" marker-end="url(#ar)"/>
<line x1="729" y1="1432" x2="751" y2="1432" marker-start="url(#ar)" marker-end="url(#ar)"/>
<path d="M686,1433h43M742,1410L756,1436H802M712,1462H774"/></g>
</g>
<g font-size="9" fill="#222">
<text x="737" y="1377">5</text><text transform="translate(714,1412) rotate(-90)">15</text>
<text x="689" y="1439">ø13 <tspan font-size="6">h7</tspan></text><text x="761" y="1434">M4xP0.7</text>
<text x="713" y="1461">A-A  SECTION</text>
</g>

<!-- RV right view -->
<g stroke="#222" fill="none" stroke-width="0.9">
<rect x="867" y="1367" width="6" height="80"/><rect x="960" y="1367" width="6" height="80"/>
<rect x="873" y="1364" width="87" height="87" stroke-width="1.3"/>
<path d="M883,1367h67l7,7v66l-7,7h-67l-7,-7v-66z"/>
<rect x="862" y="1393" width="5" height="28"/><rect x="966" y="1393" width="5" height="28"/>
<rect x="822" y="1394" width="40" height="26"/><rect x="828" y="1390" width="26" height="5"/>
<rect x="971" y="1394" width="39" height="26"/><rect x="979" y="1390" width="26" height="5"/>
<circle cx="916" cy="1407" r="25"/><circle cx="916" cy="1407" r="22"/>
<circle cx="916" cy="1407" r="13" stroke-width="1.6"/><circle cx="916" cy="1407" r="10"/><circle cx="916" cy="1407" r="3.5"/>
<g stroke-width="1.2"><circle cx="885" cy="1391" r="5.5"/><circle cx="934" cy="1377" r="5.5"/><circle cx="948" cy="1425" r="5.5"/><circle cx="899" cy="1438" r="5.5"/></g>
<circle cx="885" cy="1391" r="2.3"/><circle cx="934" cy="1377" r="2.3"/><circle cx="948" cy="1425" r="2.3"/><circle cx="899" cy="1438" r="2.3"/>
<g stroke-width="0.6"><circle cx="890" cy="1380" r="3"/><circle cx="945" cy="1381" r="3"/><circle cx="945" cy="1434" r="3"/><circle cx="890" cy="1434" r="3"/></g>
<line x1="810" y1="1407" x2="1020" y2="1407" stroke-dasharray="10 3 2 3" stroke-width="0.6"/>
<line x1="916" y1="1320" x2="916" y2="1465" stroke-dasharray="10 3 2 3" stroke-width="0.6"/>
</g>
<g stroke="#222" stroke-width="0.5" fill="none">
<path d="M821,1316v80M1011,1316v60M875,1342v22M958,1342v22M878,1350v15M959,1350v15M872,1362v8M961,1362v8"/>
<line x1="821" y1="1321" x2="916" y2="1321" marker-start="url(#ar)" marker-end="url(#ar)"/>
<line x1="916" y1="1321" x2="1011" y2="1321" marker-start="url(#ar)" marker-end="url(#ar)"/>
<line x1="875" y1="1348" x2="958" y2="1348" marker-start="url(#ar)" marker-end="url(#ar)"/>
<line x1="821" y1="1358" x2="878" y2="1358" marker-end="url(#ar)"/>
<line x1="1011" y1="1358" x2="959" y2="1358" marker-end="url(#ar)"/>
<line x1="821" y1="1374" x2="872" y2="1374" marker-end="url(#ar)"/>
<line x1="1011" y1="1374" x2="961" y2="1374" marker-end="url(#ar)"/>
<path d="M804,1336H830L985,1497"/>
<path d="M925,1360h20l-8,20"/>
<path d="M840,1388v40M986,1388v40"/>
<line x1="840" y1="1388" x2="830" y2="1388" marker-end="url(#ar)"/><line x1="840" y1="1428" x2="830" y2="1428" marker-end="url(#ar)"/>
<line x1="986" y1="1388" x2="1008" y2="1388" marker-end="url(#ar)"/><line x1="986" y1="1428" x2="1008" y2="1428" marker-end="url(#ar)"/>
</g>
<g font-size="9" fill="#222">
<text x="805" y="1333">A<tspan font-size="6">3</tspan></text><text x="864" y="1318">53</text><text x="956" y="1318">53</text>
<text x="836" y="1343">22</text><text x="983" y="1343">22</text><text x="835" y="1366">20</text><text x="985" y="1366">20</text>
<text x="900" y="1337">A<tspan font-size="6">5</tspan></text><text x="922" y="1353">A<tspan font-size="6">6</tspan></text>
<text x="812" y="1389">A</text><text x="812" y="1428">A</text><text x="1010" y="1386">A</text><text x="1010" y="1429">A</text>
<text transform="translate(985,1458) rotate(60)">ø A<tspan font-size="6">4</tspan></text><text transform="translate(975,1463) rotate(60)" font-size="7">(PCD)</text>
</g>
</svg>
</body></html>
